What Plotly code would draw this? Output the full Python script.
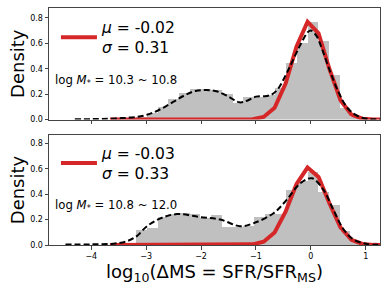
import plotly.graph_objects as go
from plotly.subplots import make_subplots

# ---------------- data ----------------
bin_centers = [-3.473, -3.278, -3.083, -2.888, -2.693, -2.498, -2.303, -2.108,
               -1.913, -1.718, -1.523, -1.328, -1.133, -0.938, -0.743, -0.548,
               -0.353, -0.158, 0.038, 0.233, 0.428, 0.623, 0.818, 1.013]
bin_width = 0.195

hist_top = [0.003, 0.01, 0.02, 0.05, 0.10, 0.16, 0.21, 0.24,
            0.24, 0.23, 0.20, 0.128, 0.175, 0.18, 0.19, 0.25,
            0.445, 0.60, 0.77, 0.62, 0.35, 0.09, 0.02, 0.005]
hist_bot = [0.0, 0.0, 0.115, 0.13, 0.22, 0.24, 0.25, 0.245,
            0.21, 0.235, 0.14, 0.145, 0.15, 0.22, 0.243, 0.245,
            0.434, 0.50, 0.577, 0.415, 0.316, 0.107, 0.03, 0.005]

kde_top_x = [-4.3, -4.0, -3.7, -3.5, -3.3, -3.1, -2.9, -2.7, -2.5, -2.3, -2.1, -1.9,
             -1.7, -1.5, -1.3, -1.15, -1.0, -0.8, -0.7, -0.6, -0.4, -0.2, -0.05, 0.0,
             0.1, 0.2, 0.35, 0.5, 0.65, 0.8, 0.95, 1.1, 1.26]
kde_top_y = [0.002, 0.003, 0.006, 0.01, 0.015, 0.025, 0.05, 0.09, 0.14, 0.19, 0.225, 0.232,
             0.22, 0.18, 0.135, 0.15, 0.18, 0.185, 0.20, 0.24, 0.40, 0.58, 0.69, 0.70,
             0.66, 0.56, 0.38, 0.22, 0.10, 0.04, 0.012, 0.003, 0.001]

kde_bot_x = [-4.47, -4.0, -3.6, -3.35, -3.17, -2.99, -2.74, -2.44, -2.02, -1.65, -1.29,
             -1.05, -0.68, -0.44, -0.19, 0.02, 0.23, 0.41, 0.6, 0.78, 1.02, 1.26]
kde_bot_y = [0.003, 0.005, 0.01, 0.03, 0.07, 0.146, 0.21, 0.243, 0.22, 0.20, 0.148,
             0.17, 0.25, 0.355, 0.486, 0.525, 0.434, 0.277, 0.12, 0.042, 0.008, 0.001]

gauss_x = [-3.66, -3.46, -3.26, -3.06, -2.86, -2.66, -2.46, -2.26, -2.06, -1.86, -1.66,
           -1.46, -1.26, -1.06, -0.86, -0.66, -0.46, -0.26, -0.06, 0.14, 0.34, 0.54,
           0.74, 0.94, 1.14, 1.26]
gauss_top = [0, 0, 0, 0, 0, 0, 0, 0, 0, 0, 0,
             0, 0, 0.003, 0.020, 0.092, 0.283, 0.575, 0.770, 0.679, 0.396, 0.152,
             0.038, 0.006, 0.001, 0.0]
gauss_bot = [0, 0, 0, 0, 0, 0, 0, 0, 0, 0, 0,
             0, 0.001, 0.005, 0.026, 0.099, 0.262, 0.480, 0.609, 0.536, 0.326, 0.138,
             0.040, 0.008, 0.001, 0.0]

legend_top = "<i>μ</i> = -0.02<br><i>σ</i> = 0.31"
legend_bot = "<i>μ</i> = -0.03<br><i>σ</i> = 0.33"
mass_top = "log <i>M</i><sub>*</sub> = 10.3 ~ 10.8"
mass_bot = "log <i>M</i><sub>*</sub> = 10.8 ~ 12.0"

x_ticks = [-4, -3, -2, -1, 0, 1]
x_tick_text = ["−4", "−3", "−2", "−1", "0", "1"]
y_ticks = [0.0, 0.2, 0.4, 0.6, 0.8]
y_tick_text = ["0.0", "0.2", "0.4", "0.6", "0.8"]

# ---------------- figure ----------------
FONT = "DejaVu Sans"
RED = "#d62728"
GREY = "#c0c0c0"

fig = make_subplots(rows=2, cols=1, shared_xaxes=False)

panels = [
    (1, hist_top, kde_top_x, kde_top_y, gauss_top, legend_top, "legend"),
    (2, hist_bot, kde_bot_x, kde_bot_y, gauss_bot, legend_bot, "legend2"),
]
for row, hist, kx, ky, gy, lname, leg in panels:
    fig.add_trace(go.Bar(x=bin_centers, y=hist, width=bin_width,
                         marker=dict(color=GREY, line=dict(width=0)),
                         showlegend=False, hoverinfo="skip"), row=row, col=1)
    fig.add_trace(go.Scatter(x=gauss_x, y=gy, mode="lines",
                             line=dict(color=RED, width=4),
                             name=lname, showlegend=True, legend=leg,
                             hoverinfo="skip"), row=row, col=1)
    fig.add_trace(go.Scatter(x=kx, y=ky, mode="lines",
                             line=dict(color="black", width=2, dash="6px,3px", shape="spline"),
                             showlegend=False, hoverinfo="skip"), row=row, col=1)

axis_common = dict(showline=True, mirror=True, linecolor="#444", linewidth=1,
                   ticks="outside", ticklen=3.5, tickwidth=1, tickcolor="#444",
                   showgrid=False, zeroline=False, automargin=False,
                   tickfont=dict(family=FONT, size=8, color="black"))

fig.update_xaxes(range=[-4.77, 1.26], tickvals=x_ticks, ticktext=x_tick_text, **axis_common)
fig.update_xaxes(showticklabels=False, row=1, col=1)
fig.update_xaxes(title=dict(text="log<sub>10</sub>(ΔMS = SFR/SFR<sub>MS</sub>)",
                            font=dict(family=FONT, size=18, color="black"), standoff=0),
                 row=2, col=1)
fig.update_yaxes(tickvals=y_ticks, ticktext=y_tick_text, **axis_common)
fig.update_yaxes(range=[0, 0.878], domain=[0.5295, 1.0],
                 title=dict(text="Density", font=dict(family=FONT, size=18, color="black"),
                            standoff=0), row=1, col=1)
fig.update_yaxes(range=[0, 0.865], domain=[0.0, 0.464],
                 title=dict(text="Density", font=dict(family=FONT, size=18, color="black"),
                            standoff=0), row=2, col=1)

leg_common = dict(xref="paper", yref="paper", x=0.021, xanchor="left", yanchor="middle",
                  bgcolor="rgba(0,0,0,0)", borderwidth=0,
                  font=dict(family=FONT, size=15.5, color="black"), itemwidth=36)
fig.update_layout(legend=dict(y=0.875, **leg_common),
                  legend2=dict(y=0.345, **leg_common))

fig.add_annotation(text=mass_top, xref="paper", yref="paper", x=0.012, y=0.692,
                   xanchor="left", yanchor="middle", showarrow=False,
                   font=dict(family=FONT, size=11.7, color="black"))
fig.add_annotation(text=mass_bot, xref="paper", yref="paper", x=0.012, y=0.165,
                   xanchor="left", yanchor="middle", showarrow=False,
                   font=dict(family=FONT, size=11.7, color="black"))

fig.update_layout(width=390, height=293, margin=dict(l=49, r=10, t=8, b=48),
                  paper_bgcolor="white", plot_bgcolor="white", bargap=0,
                  barmode="overlay", font=dict(family=FONT), hovermode=False)

fig.write_html("out.html", config={"displayModeBar": False, "staticPlot": True},
               post_script="document.body.style.margin='0';")
